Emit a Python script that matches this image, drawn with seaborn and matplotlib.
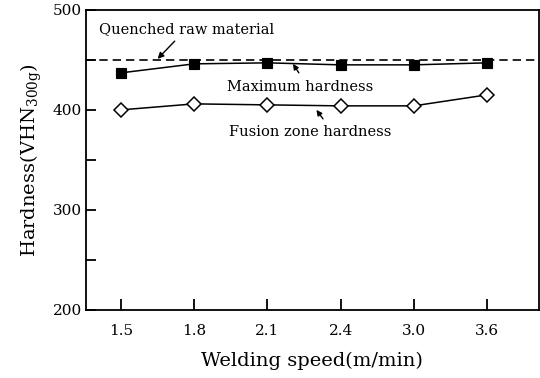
import matplotlib
matplotlib.use("Agg")
import matplotlib.pyplot as plt
import seaborn as sns
from matplotlib.ticker import MultipleLocator

# ---- data ----
speeds = ["1.5", "1.8", "2.1", "2.4", "3.0", "3.6"]
max_hardness = [437, 446, 447, 445, 445, 447]
fusion_hardness = [400, 406, 405, 404, 404, 415]
raw_hardness = 450

sns.set_theme(style="ticks")
plt.rcParams['font.family'] = ['DejaVu Serif']
plt.rcParams['mathtext.fontset'] = 'dejavuserif'
plt.rcParams['text.color'] = 'black'
plt.rcParams['axes.labelcolor'] = 'black'

fig = plt.figure(figsize=(5.4, 3.78), dpi=100)
ax = fig.add_axes([0.159, 0.180, 0.839, 0.794])

ax.axhline(raw_hardness, color='black', linestyle=(0, (5, 3)), linewidth=1.2, zorder=1)

sns.pointplot(x=speeds, y=max_hardness, ax=ax, color='black', errorbar=None,
              marker='s', markersize=7, linewidth=1.1, zorder=3)
sns.pointplot(x=speeds, y=fusion_hardness, ax=ax, color='black', errorbar=None,
              marker='D', markersize=7, linewidth=1.1, markerfacecolor='white',
              markeredgecolor='black', markeredgewidth=1.1, zorder=3)

ax.set_xlim(-0.48, 5.71)
ax.set_ylim(200, 500)
ax.yaxis.set_major_locator(MultipleLocator(100))
ax.yaxis.set_minor_locator(MultipleLocator(50))

for s in ax.spines.values():
    s.set_linewidth(1.3)
    s.set_color('black')
ax.tick_params(axis='both', which='both', direction='in', width=1.3, colors='black',
               labelsize=11)
ax.tick_params(axis='x', which='major', length=8, pad=10)
ax.tick_params(axis='y', which='major', length=7, pad=3)
ax.tick_params(axis='y', which='minor', length=7)

ax.set_xlabel('Welding speed(m/min)', fontsize=14, labelpad=10)
ax.set_ylabel(r'Hardness(VHN$_{\mathregular{300g}}$)', fontsize=14, labelpad=6)

ax.annotate('Quenched raw material', xy=(0.5, 451), xytext=(-0.3, 481),
            fontsize=10.5, ha='left', va='center',
            arrowprops=dict(arrowstyle='-|>', color='black', lw=1.0,
                            shrinkA=2, shrinkB=0, mutation_scale=9))
ax.annotate('', xy=(2.35, 446), xytext=(2.43, 437),
            arrowprops=dict(arrowstyle='-|>', color='black', lw=1.0,
                            shrinkA=0, shrinkB=0, mutation_scale=8))
ax.text(1.45, 423, 'Maximum hardness', fontsize=10.5, ha='left', va='center')
ax.annotate('', xy=(2.67, 400), xytext=(2.76, 391),
            arrowprops=dict(arrowstyle='-|>', color='black', lw=1.0,
                            shrinkA=0, shrinkB=0, mutation_scale=8))
ax.text(1.47, 378, 'Fusion zone hardness', fontsize=10.5, ha='left', va='center')

fig.savefig('out.png', dpi=100)
